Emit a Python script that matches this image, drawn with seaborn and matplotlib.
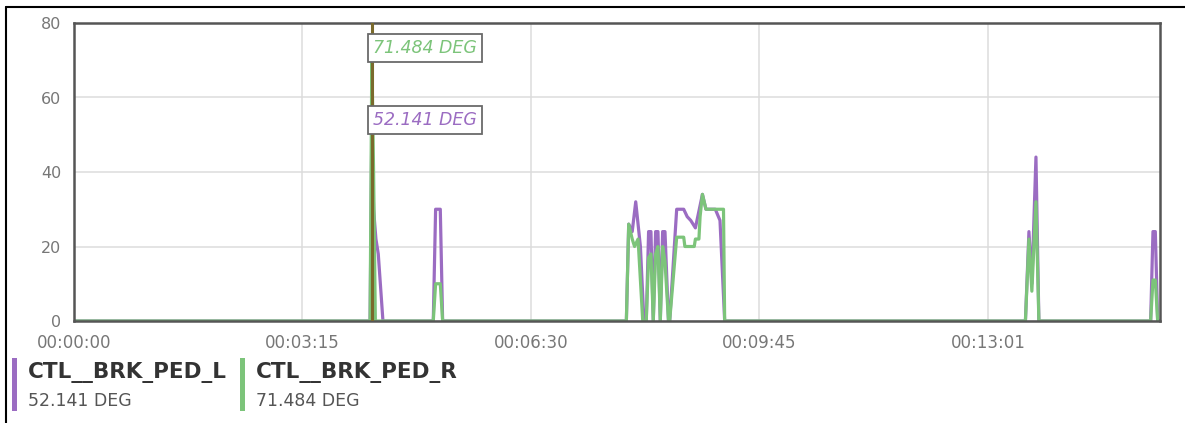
import matplotlib
matplotlib.use('Agg')
import matplotlib.pyplot as plt
import pandas as pd
import seaborn as sns
from matplotlib.lines import Line2D
from matplotlib.patches import Rectangle

# signals and units
SERIES = ['CTL__BRK_PED_L', 'CTL__BRK_PED_R']
UNIT = 'DEG'
COLORS = ['#9b6cc2', '#7cc47a']

# cursor position (s) and the values read there
CURSOR_T = 254.5
CURSOR_VALUES = [52.141, 71.484]

# left pedal, time (s) / angle (deg)
L_T = [0, 253, 254.5, 256, 258, 260, 264,
       307, 309, 313, 315,
       472, 474, 477, 480, 484, 487, 489, 491, 493, 495, 497, 499, 501,
       503, 505, 508, 509, 515, 521, 524, 527, 531, 533, 537, 540, 548,
       552, 556,
       813, 816, 818.5, 822, 824.5,
       920, 922, 924, 926, 928]
L_V = [0, 0, 52.141, 30, 22, 18, 0,
       0, 30, 30, 0,
       0, 26, 24, 32, 20, 0, 0, 24, 24, 0, 24, 24, 0,
       24, 24, 0, 0, 30, 30, 28, 27, 25, 28, 34, 30, 30,
       27, 0,
       0, 24, 10, 44, 0,
       0, 24, 24, 0, 0]

# right pedal, time (s) / angle (deg)
R_T = [0, 253, 254.5, 256, 257.5,
       307, 309, 313, 315,
       472, 474, 477, 479, 482, 486, 489, 491, 493, 495, 497, 499, 501,
       503, 505, 508, 509, 515, 521, 522, 530, 531, 534, 535, 537, 540,
       555, 556,
       813, 816, 818.5, 822, 824.5,
       920, 922, 924, 926, 928]
R_V = [0, 0, 71.484, 40, 0,
       0, 10, 10, 0,
       0, 26, 22, 20, 22, 0, 0, 17, 18, 0, 18, 20, 0,
       20, 16, 0, 0, 22.5, 22.5, 20, 20, 22, 22, 28, 34, 30,
       30, 0,
       0, 22, 8, 32, 0,
       0, 11, 11, 0, 0]

X_TICKS = [0, 195.25, 390.5, 585.75, 781]
X_TICK_LABELS = ['00:00:00', '00:03:15', '00:06:30', '00:09:45', '00:13:01']
Y_TICKS = [0, 20, 40, 60, 80]
X_END = 928


def main():
    df = pd.concat([
        pd.DataFrame({'t': L_T, 'v': L_V, 'series': SERIES[0]}),
        pd.DataFrame({'t': R_T, 'v': R_V, 'series': SERIES[1]}),
    ], ignore_index=True)

    sns.set_style('white')
    plt.rcParams['font.family'] = ['DejaVu Sans']

    W, H = 1185, 423
    fig = plt.figure(figsize=(W / 100, H / 100), dpi=100)
    ax = fig.add_axes([74 / W, 1 - 321 / H, (1160 - 74) / W, (321 - 23) / H])

    sns.lineplot(data=df, x='t', y='v', hue='series', hue_order=SERIES,
                 palette=dict(zip(SERIES, COLORS)), estimator=None, sort=False,
                 linewidth=2.3, legend=False, ax=ax)

    ax.axvline(CURSOR_T, color='#7a6a2c', lw=2.2, zorder=5)

    for val, col in zip(CURSOR_VALUES, COLORS):
        ax.annotate(f'{val:.3f} {UNIT}', xy=(CURSOR_T, val), xytext=(1, 5),
                    textcoords='offset points', ha='left', va='center',
                    fontsize=12.5, style='italic', color=col, zorder=6,
                    bbox=dict(boxstyle='square,pad=0.3', fc='white', ec='#6a6a6a', lw=1.3))

    ax.set_xlim(0, X_END)
    ax.set_ylim(0, 80)
    ax.set_xticks(X_TICKS, X_TICK_LABELS)
    ax.set_yticks(Y_TICKS)
    ax.set_xlabel('')
    ax.set_ylabel('')
    ax.grid(True, color='#dcdcdc', lw=1.1)
    ax.tick_params(length=0, labelcolor='#777777')
    ax.tick_params(axis='y', pad=9, labelsize=11.5)
    ax.tick_params(axis='x', pad=9, labelsize=12)
    for s in ax.spines.values():
        s.set_visible(True)
        s.set_color('#555555')
        s.set_linewidth(1.8)

    # legend below the axes
    for i, (name, val, col) in enumerate(zip(SERIES, CURSOR_VALUES, COLORS)):
        x0 = [12, 240][i]
        fig.add_artist(Rectangle((x0 / W, 1 - 411 / H), 4.5 / W, 53 / H,
                                 transform=fig.transFigure, color=col, lw=0))
        fig.text((x0 + 16) / W, 1 - 378 / H, name, fontsize=15.5, fontweight='bold',
                 color='#333333', ha='left', va='baseline')
        fig.text((x0 + 16) / W, 1 - 406 / H, f'{val:.3f} {UNIT}', fontsize=12.5,
                 color='#555555', ha='left', va='baseline')

    # screenshot frame
    fig.add_artist(Line2D([6 / W, 6 / W], [0, 1 - 7 / H], transform=fig.transFigure,
                          color='black', lw=1.5))
    fig.add_artist(Line2D([6 / W, 1], [1 - 7 / H, 1 - 7 / H], transform=fig.transFigure,
                          color='black', lw=1.5))

    fig.savefig('out.png', dpi=100)


if __name__ == '__main__':
    main()
